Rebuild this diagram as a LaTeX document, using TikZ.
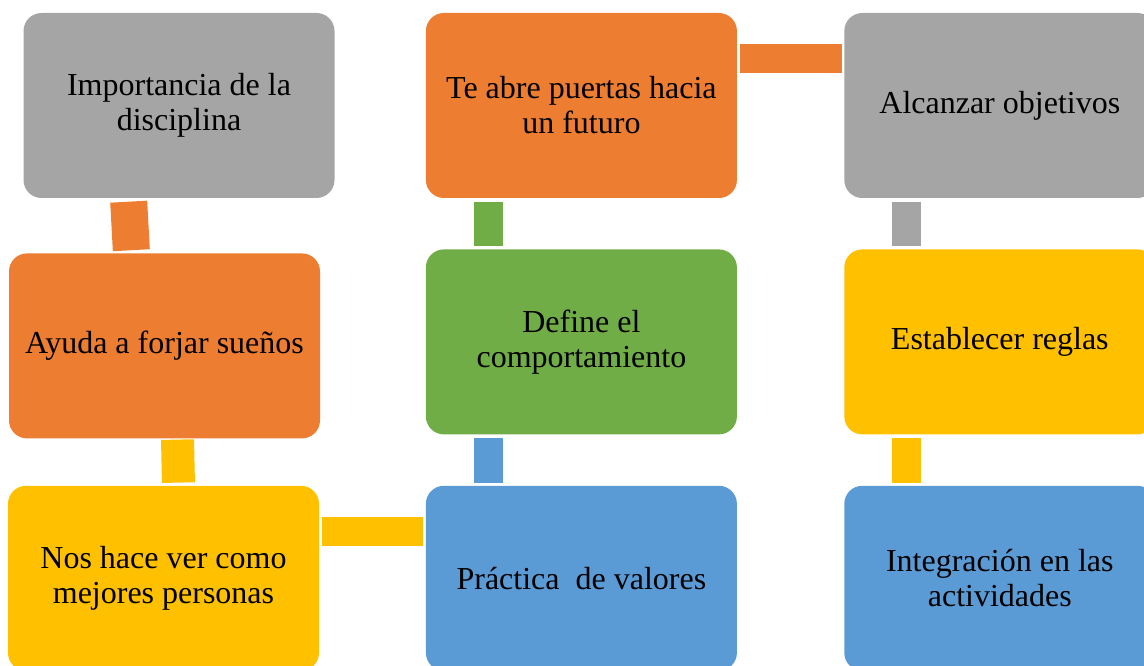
\documentclass[tikz,border=0pt]{standalone}
\usepackage{fontspec}
\setmainfont{Liberation Serif}
\usetikzlibrary{positioning}
\definecolor{gris}{HTML}{A5A5A5}
\definecolor{naranja}{HTML}{ED7D31}
\definecolor{verde}{HTML}{70AD47}
\definecolor{amarillo}{HTML}{FFC000}
\definecolor{azul}{HTML}{5B9BD5}

\begin{document}
\begin{tikzpicture}[
    x=1pt, y=1pt,
    block/.style={rectangle, rounded corners=18pt, minimum width=311pt, minimum height=185pt, inner sep=0pt, align=center, font=\fontsize{32}{35}\selectfont},
    bar/.style={line width=29pt, shorten <=3pt, shorten >=3pt}
]
    \useasboundingbox (0,0) rectangle (1144,-666);

    % Nodes
    \node[block, fill=gris] (imp) at (179,-105.5) {Importancia de la\\disciplina};
    \node[block, fill=naranja, right=91pt of imp] (puertas) {Te abre puertas hacia\\un futuro};
    \node[block, fill=gris, right=107pt of puertas] (objetivos) {Alcanzar objetivos};
    \node[block, fill=naranja, below=55pt of imp, xshift=-14.5pt] (suenos) {Ayuda a forjar sueños};
    \node[block, fill=verde, below=51pt of puertas] (comporta) {Define el\\comportamiento};
    \node[block, fill=amarillo, below=51pt of objetivos] (reglas) {Establecer reglas};
    \node[block, fill=amarillo, below=47pt of suenos, xshift=-1pt] (personas) {Nos hace ver como\\mejores personas};
    \node[block, fill=azul, below=51pt of comporta] (valores) {Práctica~ de valores};
    \node[block, fill=azul, below=51pt of reglas] (integra) {Integración en las\\actividades};

    % Bars
    \draw[bar, naranja, line width=37pt, shorten <=3.5pt] ([xshift=-50.5pt]imp.south) -- ([xshift=-33pt]suenos.north);
    \draw[bar, naranja, shorten >=2pt] ([yshift=47pt]puertas.east) -- ([yshift=47pt]objetivos.west);
    \draw[bar, verde, shorten <=4pt] ([xshift=-93pt]puertas.south) -- ([xshift=-93pt]comporta.north);
    \draw[bar, gris, shorten <=4pt] ([xshift=-93pt]objetivos.south) -- ([xshift=-93pt]reglas.north);
    \draw[bar, amarillo, line width=33pt, shorten <=1pt] ([xshift=13pt]suenos.south) -- ([xshift=15pt]personas.north);
    \draw[bar, azul] ([xshift=-93pt]comporta.south) -- ([xshift=-93pt]valores.north);
    \draw[bar, amarillo] ([xshift=-93pt]reglas.south) -- ([xshift=-93pt]integra.north);
    \draw[bar, amarillo] ([yshift=47pt]personas.east) -- ([yshift=47pt]valores.west);
\end{tikzpicture}
\end{document}
